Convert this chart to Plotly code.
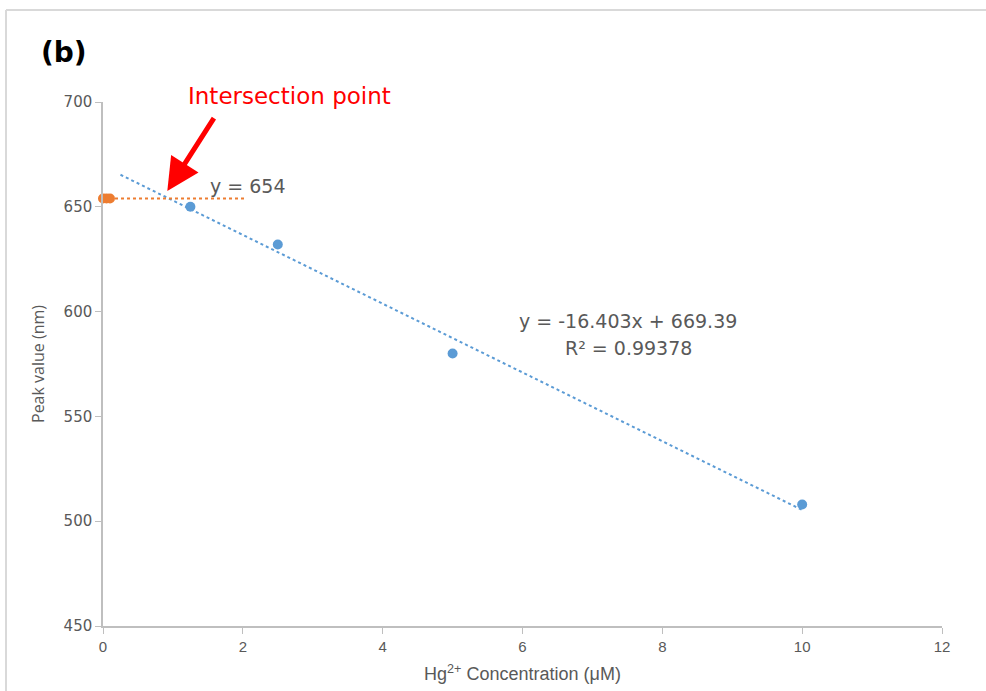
import plotly.graph_objects as go

# Measured peak positions vs Hg2+ concentration
conc_um = [1.25, 2.5, 5, 10]
peak_nm = [650, 632, 580, 508]

# Reference (blank) peaks
blank_conc = [0, 0.05, 0.1]
blank_peak = [654, 654, 654]

# Linear fit: y = slope*x + intercept
slope = -16.403
intercept = 669.39
r_squared = 0.99378
fit_x = [0.25, 10]
blank_line_x = [0, 2.05]
blank_level = 654

x_ticks = [0, 2, 4, 6, 8, 10, 12]
y_ticks = [450, 500, 550, 600, 650, 700]

blue = "#5b9bd5"
orange = "#ed7d31"
grey_text = "#595959"
axis_grey = "#bfbfbf"
note_font = "DejaVu Sans, Open Sans, sans-serif"

fig = go.Figure()

fig.add_trace(go.Scatter(
    x=fit_x, y=[slope * v + intercept for v in fit_x], mode="lines",
    line=dict(color=blue, width=2, dash="dot"), hoverinfo="skip"))
fig.add_trace(go.Scatter(
    x=blank_line_x, y=[blank_level] * len(blank_line_x), mode="lines",
    line=dict(color=orange, width=2, dash="dot"), hoverinfo="skip"))
fig.add_trace(go.Scatter(
    x=conc_um, y=peak_nm, mode="markers", cliponaxis=False,
    marker=dict(color=blue, size=10)))
fig.add_trace(go.Scatter(
    x=blank_conc, y=blank_peak, mode="markers", cliponaxis=False,
    marker=dict(color=orange, size=10)))

L, R, T, B = 103, 44, 102, 65
PW, PH = 986 - L - R, 691 - T - B


def px_x(p):
    return (p - L) / PW


def px_y(p):
    return (691 - B - p) / PH


fig.update_layout(
    width=986, height=691,
    margin=dict(l=L, r=R, t=T, b=B, autoexpand=False),
    paper_bgcolor="white", plot_bgcolor="white",
    showlegend=False,
    font=dict(family="Open Sans, Noto Sans, sans-serif", color=grey_text),
    xaxis=dict(
        range=[0, 12], tickvals=x_ticks, showgrid=False, zeroline=False,
        showline=True, linecolor=axis_grey, linewidth=1.5,
        ticks="outside", ticklen=6, tickcolor=axis_grey,
        tickfont=dict(family="Liberation Sans, Arial, sans-serif",
                      size=15, color=grey_text),
        title=dict(text="Hg<sup>2+</sup> Concentration (μM)", standoff=14,
                   font=dict(family="Liberation Sans, Arial, sans-serif",
                             size=18, color=grey_text)),
    ),
    yaxis=dict(
        range=[450, 700], tickvals=y_ticks, showgrid=False, zeroline=False,
        showline=True, linecolor=axis_grey, linewidth=1.5,
        ticks="outside", ticklen=6, tickcolor=axis_grey,
        tickfont=dict(family=note_font, size=15, color=grey_text),
        title=dict(text="Peak value (nm)", standoff=15,
                   font=dict(size=16, color=grey_text)),
    ),
)

# Outer frame
frame = dict(color="#d9d9d9", width=2)
fig.add_shape(type="line", xref="paper", yref="paper",
              x0=px_x(6), x1=px_x(1000), y0=px_y(10), y1=px_y(10), line=frame)
fig.add_shape(type="line", xref="paper", yref="paper",
              x0=px_x(6), x1=px_x(6), y0=px_y(10), y1=px_y(700), line=frame)

fig.add_annotation(xref="paper", yref="paper", x=px_x(64), y=px_y(53),
                   xanchor="center", yanchor="middle",
                   text="<b>(b)</b>", showarrow=False,
                   font=dict(family="DejaVu Sans, sans-serif", size=28, color="black"))
fig.add_annotation(xref="paper", yref="paper", x=px_x(289), y=px_y(96),
                   xanchor="center", yanchor="middle",
                   text="Intersection point", showarrow=False,
                   font=dict(family=note_font, size=23, color="#ff0000"))
fig.add_annotation(x=0.92, y=657.5, ax=1.6, ay=693, axref="x", ayref="y",
                   text="", showarrow=True, arrowhead=2, arrowsize=1.3,
                   arrowwidth=5, arrowcolor="#ff0000")
fig.add_annotation(x=2.08, y=660, text=f"y = {blank_level}", showarrow=False,
                   font=dict(family=note_font, size=19, color=grey_text))
fig.add_annotation(x=7.51, y=595.5,
                   text=f"y = {slope}x + {intercept}", showarrow=False,
                   font=dict(family=note_font, size=19, color=grey_text))
fig.add_annotation(x=7.51, y=582.6,
                   text=f"R² = {r_squared}", showarrow=False,
                   font=dict(family=note_font, size=19, color=grey_text))

fig.write_html("out.html")
